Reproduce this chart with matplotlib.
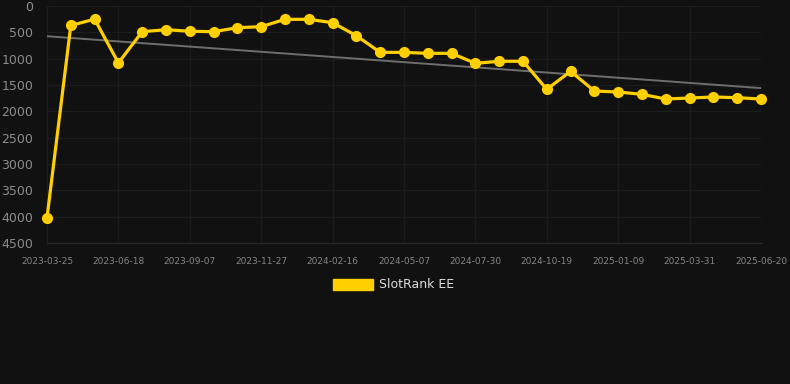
import numpy as np
import matplotlib
matplotlib.use('Agg')
import matplotlib.pyplot as plt
from matplotlib.patches import Rectangle

## Rank values (lower = better, axis is inverted)
rank = [4020, 370, 250, 1080, 488, 450, 480, 488, 412, 393,
        253, 253, 317, 564, 880, 880, 899, 899, 1088, 1050,
        1050, 1582, 1240, 1614, 1633, 1677, 1766, 1747, 1728, 1741,
        1766]
## Labels shown on every third point
tick_labels = ['2023-03-25', '2023-06-18', '2023-09-07', '2023-11-27',
               '2024-02-16', '2024-05-07', '2024-07-30', '2024-10-19',
               '2025-01-09', '2025-03-31', '2025-06-20']
y_ticks = [0, 500, 1000, 1500, 2000, 2500, 3000, 3500, 4000, 4500]
series_name = 'SlotRank EE'

bg = '#111111'
gold = '#FFD000'

x = np.arange(len(rank))
slope, icpt = np.polyfit(x, rank, 1)  ## linear trend

fig = plt.figure(figsize=(7.9, 3.84), dpi=100, facecolor=bg)
ax = fig.add_axes([47/790, 1-243/384, (761-47)/790, (243-6)/384])
ax.set_facecolor(bg)

ax.plot(x, slope*x + icpt, color='#6e6e6e', lw=1.4, zorder=2)
ax.plot(x, rank, color=gold, lw=2.3, marker='o', ms=7, zorder=3,
        clip_on=False)

## Tidy things up
ax.set_xlim(0, len(rank)-1)
ax.set_ylim(4500, 0)
ax.set_yticks(y_ticks)
ax.set_xticks(x[::3])
ax.set_xticklabels(tick_labels)
ax.grid(True, color='#1c1c1c', lw=0.9)
ax.set_axisbelow(True)
for s in ['top', 'right', 'left']:
    ax.spines[s].set_visible(False)
ax.spines['bottom'].set_color('#2a2a2a')
ax.tick_params(axis='x', length=0, pad=10, labelsize=6.5, labelcolor='#858585')
ax.tick_params(axis='y', length=0, pad=10, labelsize=9, labelcolor='#8c8c8c')

## Legend drawn by hand under the axes
fig.add_artist(Rectangle((333/790, 1-290/384), 40/790, 11/384,
                         transform=fig.transFigure, color=gold))
fig.text(379/790, 1-285/384, series_name, color='#dddddd', fontsize=9,
         va='center', ha='left')

fig.savefig('out.png', dpi=100, facecolor=bg)
